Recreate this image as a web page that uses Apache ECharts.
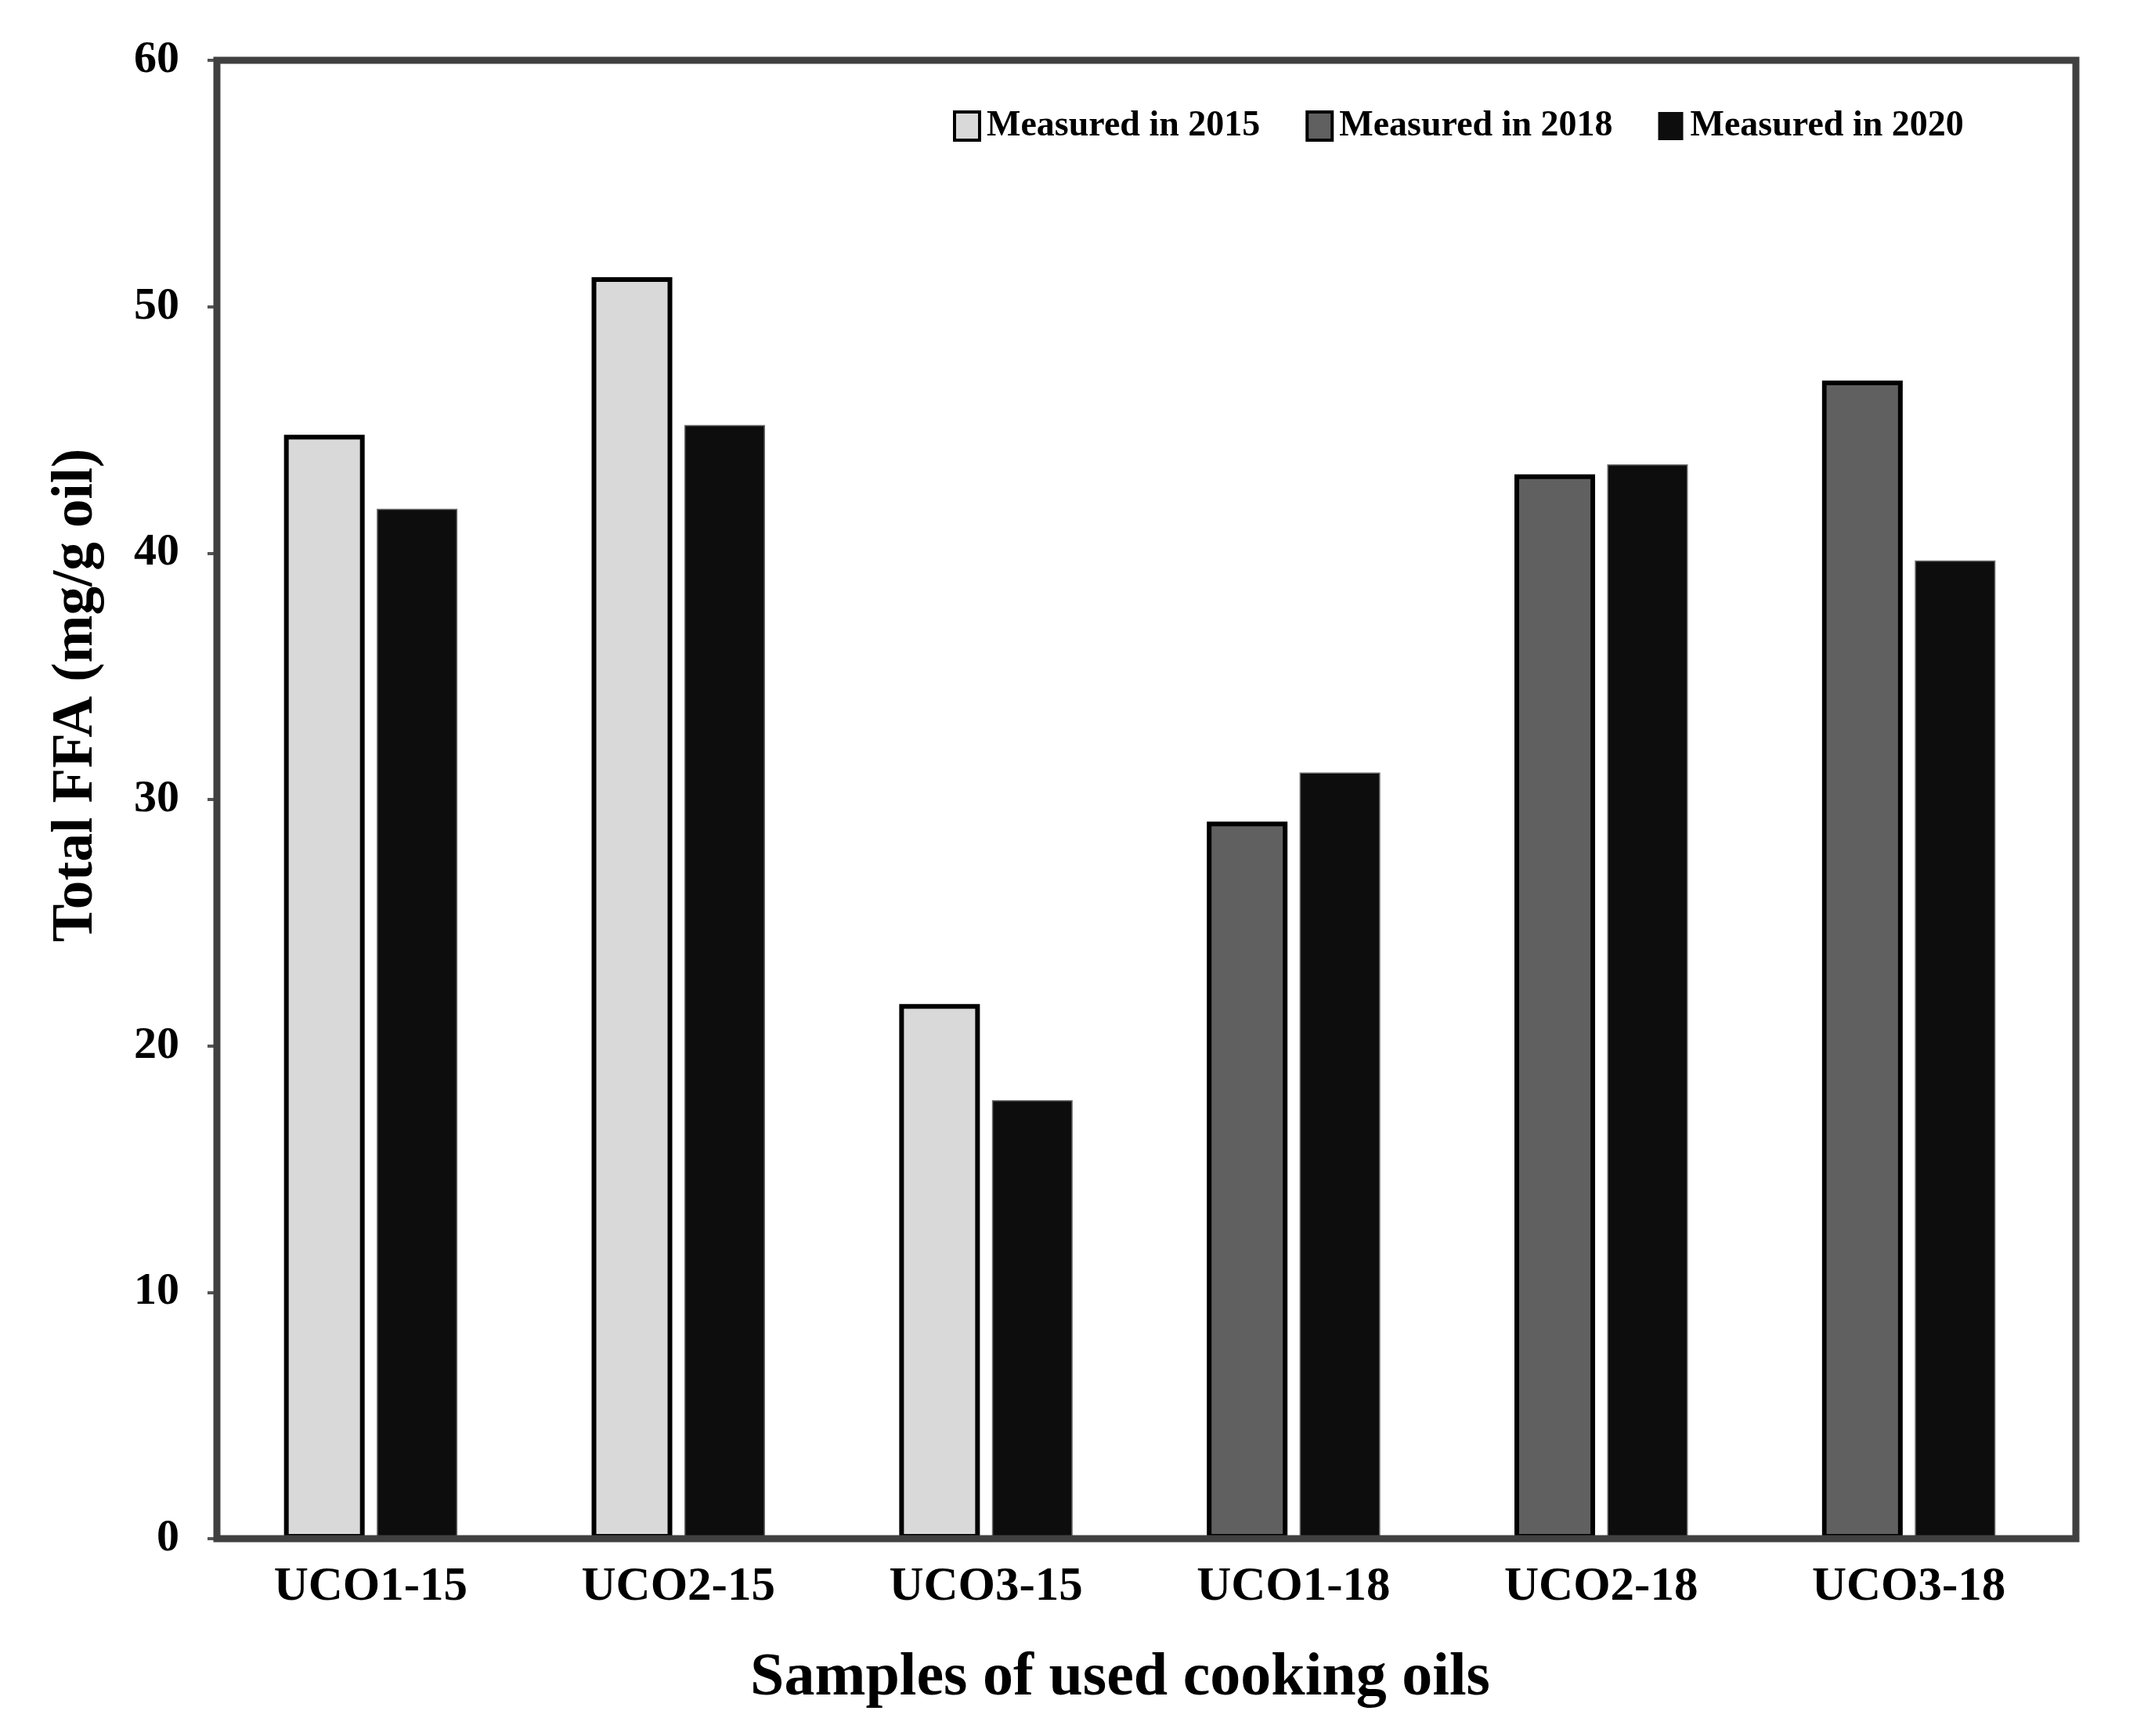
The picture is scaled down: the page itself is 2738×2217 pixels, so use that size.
<!DOCTYPE html>
<html>
<head>
<meta charset="utf-8">
<script src="https://cdn.jsdelivr.net/npm/echarts@6/dist/echarts.min.js"></script>
<style>
html,body{margin:0;padding:0;background:#fff;}
#chart{width:2738px;height:2217px;}
</style>
</head>
<body>
<div id="chart"></div>
<script>
const categories = ['UCO1-15', 'UCO2-15', 'UCO3-15', 'UCO1-18', 'UCO2-18', 'UCO3-18'];
const seriesNames = ['Measured in 2015', 'Measured in 2018', 'Measured in 2020'];
const measured2015 = [44.8, 51.2, 21.7, null, null, null];
const measured2018 = [null, null, null, 29.1, 43.2, 47.0];
const measured2020 = [41.8, 45.2, 17.8, 31.1, 43.6, 39.7];
const yTicks = { min: 0, max: 60, interval: 10 };
const xTitle = 'Samples of used cooking oils';
const yTitle = 'Total FFA (mg/g oil)';

const FONT = "'Liberation Serif', 'DejaVu Serif', serif";

function stripeFill(edge, fill) {
  return {
    type: 'linear', x: 0, y: 0, x2: 1, y2: 0,
    colorStops: [
      { offset: 0, color: edge }, { offset: 0.055, color: edge },
      { offset: 0.055, color: fill }, { offset: 0.945, color: fill },
      { offset: 0.945, color: edge }, { offset: 1, color: edge }
    ]
  };
}

const gridL = 277, gridT = 77, gridW = 2357, gridH = 1888, frameW = 2374;

const chart = echarts.init(document.getElementById('chart'), null, { renderer: 'canvas' });
chart.setOption({
  backgroundColor: '#ffffff',
  animation: false,
  textStyle: { fontFamily: FONT },
  grid: { left: gridL, top: gridT, width: gridW, height: gridH, containLabel: false },
  legend: {
    data: [
      { name: seriesNames[0], itemStyle: { color: '#d9d9d9', borderColor: '#000', borderWidth: 4 } },
      { name: seriesNames[1], itemStyle: { color: '#606060', borderColor: '#000', borderWidth: 4 } },
      { name: seriesNames[2], itemStyle: { color: '#0d0d0d', borderColor: '#0d0d0d', borderWidth: 0 } }
    ],
    left: 1212, top: 133,
    itemWidth: 32, itemHeight: 36, itemGap: 58,
    icon: 'rect',
    textStyle: { fontFamily: FONT, fontWeight: 'bold', fontSize: 46, color: '#000', padding: [0, 0, 0, 4] },
    selectedMode: false
  },
  xAxis: {
    type: 'category',
    data: categories,
    axisLine: { show: false },
    axisTick: { show: false },
    axisLabel: { fontFamily: FONT, fontWeight: 'bold', fontSize: 61, color: '#000', margin: 32 },
    name: xTitle,
    nameLocation: 'middle',
    nameGap: 140,
    nameTextStyle: { fontFamily: FONT, fontWeight: 'bold', fontSize: 78, color: '#000', padding: [0, 50, 0, 0] }
  },
  yAxis: {
    type: 'value',
    min: yTicks.min, max: yTicks.max, interval: yTicks.interval,
    axisLine: { show: false },
    axisTick: { show: true, inside: false, length: 12, lineStyle: { color: '#555', width: 4 } },
    splitLine: { show: false },
    axisLabel: { fontFamily: FONT, fontWeight: 'bold', fontSize: 58, color: '#000', margin: 48 },
    name: yTitle,
    nameLocation: 'middle',
    nameGap: 142,
    nameRotate: 90,
    nameTextStyle: { fontFamily: FONT, fontWeight: 'bold', fontSize: 73, color: '#000', padding: [0, 0, 0, 266] }
  },
  series: [
    {
      name: seriesNames[0], type: 'bar', stack: 'early', data: measured2015,
      barWidth: 103, barGap: '15%',
      itemStyle: { color: stripeFill('#efefef', '#d9d9d9'), borderColor: '#000', borderWidth: 6 }
    },
    {
      name: seriesNames[1], type: 'bar', stack: 'early', data: measured2018,
      barWidth: 103, barGap: '15%',
      itemStyle: { color: stripeFill('#ffffff', '#606060'), borderColor: '#000', borderWidth: 6 }
    },
    {
      name: seriesNames[2], type: 'bar', data: measured2020,
      barWidth: 103, barGap: '15%',
      itemStyle: { color: '#0d0d0d', borderColor: '#6a6a6a', borderWidth: 1.5 }
    }
  ],
  graphic: [
    {
      type: 'rect', z: 100, silent: true,
      shape: { x: gridL, y: gridT, width: frameW, height: gridH },
      style: { fill: 'none', stroke: '#404040', lineWidth: 9 }
    }
  ]
});
</script>
</body>
</html>
